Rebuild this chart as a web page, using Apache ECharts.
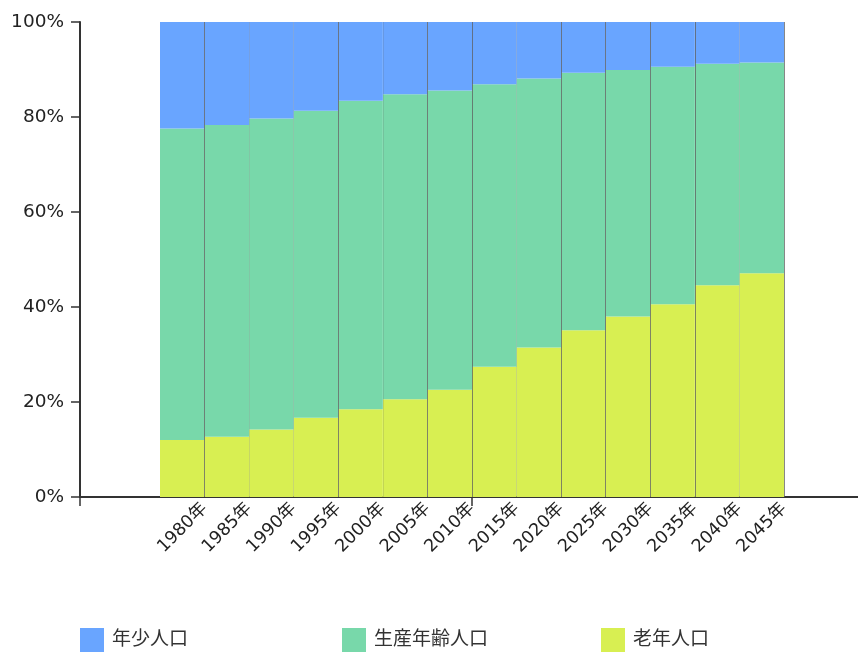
<!DOCTYPE html>
<html><head><meta charset="utf-8">
<script src="https://cdn.jsdelivr.net/npm/echarts@6/dist/echarts.min.js"></script>
<style>html,body{margin:0;padding:0;background:#fff}#c{width:858px;height:652px}</style>
</head><body><div id="c"></div>
<script>
const categories = ['1980年','1985年','1990年','1995年','2000年','2005年','2010年','2015年','2020年','2025年','2030年','2035年','2040年','2045年'];
const youngPop   = [22.4,21.7,20.3,18.7,16.6,15.2,14.4,13.1,11.9,10.7,10.1,9.4,8.8,8.5];
const workingPop = [65.6,65.6,65.5,64.6,64.9,64.2,63.0,59.5,56.6,54.2,51.9,50.0,46.6,44.4];
const oldPop     = [12.0,12.7,14.2,16.7,18.5,20.6,22.6,27.4,31.5,35.1,38.0,40.6,44.6,47.1];
const seriesNames = ['年少人口','生産年齢人口','老年人口'];
const yTickLabels = ['0%','20%','40%','60%','80%','100%'];

const FONT = '"DejaVu Sans","Noto Sans CJK JP",sans-serif';
const DARK = 'rgba(95,95,95,0.75)', FAINT = 'rgba(95,95,95,0.18)';
const chart = echarts.init(document.getElementById('c'), null, {renderer:'canvas'});
const legendLefts = [80, 342, 601];
chart.setOption({
  backgroundColor:'#fff',
  animation:false,
  textStyle:{fontFamily:FONT},
  grid:[
    {left:80, top:22, width:784, height:475, outerBoundsMode:'none', containLabel:false},
    {left:160, top:22, width:624, height:475, outerBoundsMode:'none', containLabel:false}
  ],
  xAxis:[
    {gridIndex:0, type:'value', min:0, max:2, interval:1, position:'bottom',
     axisLine:{show:true, lineStyle:{color:'#333', width:2}},
     axisTick:{show:true, length:9, lineStyle:{color:'#333', width:1.5}},
     axisLabel:{show:false}, splitLine:{show:false}},
    {gridIndex:1, type:'category', data:categories, show:false, position:'top'},
    {gridIndex:1, type:'category', data:[''].concat(categories), boundaryGap:false, z:10, position:'bottom',
     axisLine:{show:false}, axisTick:{show:false},
     axisLabel:{interval:0, rotate:45, margin:9, fontSize:17.5, color:'#222', fontFamily:FONT},
     splitLine:{show:true, interval:0, showMinLine:false,
       lineStyle:{width:1, color:[DARK,FAINT,FAINT,DARK,FAINT,DARK,DARK,FAINT,DARK,DARK,DARK,DARK,FAINT,DARK]}}}
  ],
  yAxis:[
    {gridIndex:0, type:'value', min:0, max:100, interval:20,
     axisLine:{show:true, lineStyle:{color:'#333', width:2}},
     axisTick:{show:true, length:9, lineStyle:{color:'#333', width:1.5}},
     axisLabel:{margin:16, fontSize:18.5, color:'#222', fontFamily:FONT,
       formatter:(v)=>yTickLabels[v/20]},
     splitLine:{show:false}},
    {gridIndex:1, type:'value', min:0, max:100, show:false}
  ],
  legend: seriesNames.map((n,i)=>({
    data:[n], left:legendLefts[i], top:628, padding:0, itemWidth:24, itemHeight:24,
    icon:'rect', selectedMode:false,
    textStyle:{fontSize:19, color:'#333', fontFamily:FONT, padding:[0,0,0,3]}
  })),
  series:[
    {name:seriesNames[2], type:'bar', stack:'t', xAxisIndex:1, yAxisIndex:1, barCategoryGap:'0%', data:oldPop, itemStyle:{color:'#D8EF52'}},
    {name:seriesNames[1], type:'bar', stack:'t', xAxisIndex:1, yAxisIndex:1, barCategoryGap:'0%', data:workingPop, itemStyle:{color:'#78D8AA'}},
    {name:seriesNames[0], type:'bar', stack:'t', xAxisIndex:1, yAxisIndex:1, barCategoryGap:'0%', data:youngPop, itemStyle:{color:'#69A5FF'}}
  ]
});
</script></body></html>
